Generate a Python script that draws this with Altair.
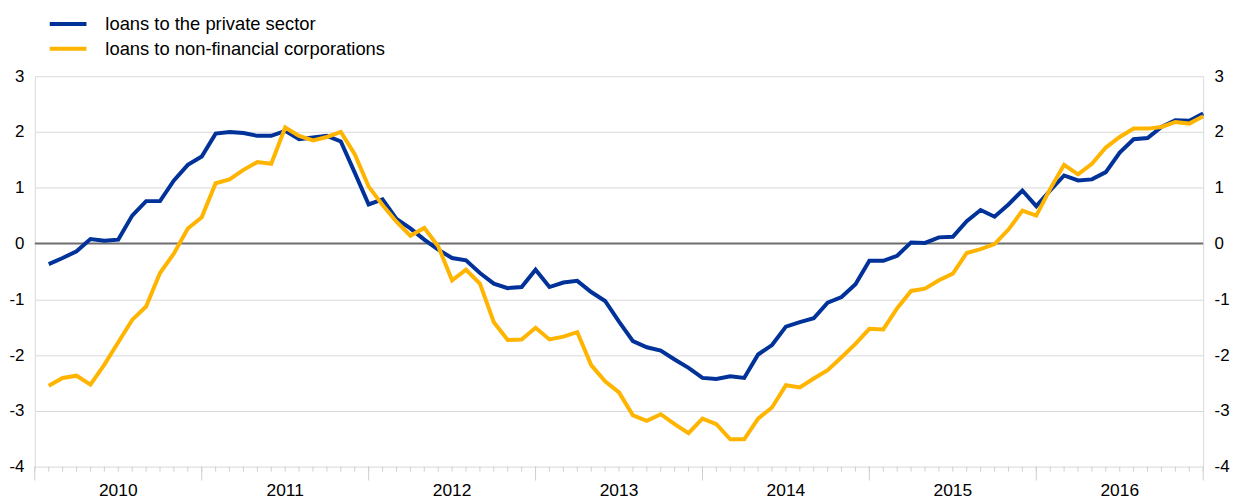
import altair as alt
import pandas as pd

years = [2010, 2011, 2012, 2013, 2014, 2015, 2016]
series_names = ["loans to the private sector", "loans to non-financial corporations"]
series_colors = ["#003299", "#ffb400"]

private_sector = [
    -0.37, -0.26, -0.14, 0.08, 0.05, 0.07, 0.50, 0.76, 0.76, 1.13, 1.41, 1.56,
    1.97, 2.00, 1.98, 1.93, 1.93, 2.02, 1.87, 1.90, 1.93, 1.83, 1.27, 0.70,
    0.79, 0.44, 0.27, 0.07, -0.11, -0.26, -0.30, -0.53, -0.72, -0.80, -0.78, -0.47,
    -0.78, -0.70, -0.67, -0.87, -1.03, -1.40, -1.75, -1.86, -1.92, -2.08, -2.23, -2.41,
    -2.43, -2.38, -2.41, -1.99, -1.82, -1.49, -1.41, -1.34, -1.06, -0.96, -0.73, -0.31,
    -0.31, -0.22, 0.02, 0.01, 0.11, 0.12, 0.40, 0.60, 0.48, 0.70, 0.95, 0.67,
    0.95, 1.22, 1.13, 1.15, 1.28, 1.63, 1.87, 1.89, 2.09, 2.21, 2.20, 2.33,
]
non_financial = [
    -2.55, -2.41, -2.37, -2.53, -2.17, -1.77, -1.37, -1.13, -0.53, -0.18, 0.27, 0.47,
    1.08, 1.15, 1.32, 1.46, 1.43, 2.08, 1.93, 1.85, 1.91, 2.00, 1.60, 1.02,
    0.69, 0.39, 0.14, 0.28, -0.05, -0.66, -0.47, -0.72, -1.41, -1.73, -1.72, -1.51,
    -1.72, -1.67, -1.59, -2.18, -2.47, -2.67, -3.08, -3.18, -3.06, -3.24, -3.40, -3.14,
    -3.24, -3.51, -3.51, -3.14, -2.94, -2.54, -2.58, -2.42, -2.27, -2.04, -1.80, -1.53,
    -1.54, -1.16, -0.85, -0.81, -0.66, -0.54, -0.17, -0.10, -0.01, 0.25, 0.59, 0.50,
    0.98, 1.41, 1.24, 1.43, 1.72, 1.91, 2.06, 2.06, 2.09, 2.18, 2.15, 2.28,
]
months = list(range(1, len(private_sector) + 1))
year_boundaries = [12 * k for k in range(len(years) + 1)]
year_midpoints = [12 * k + 6 for k in range(len(years))]
y_ticks = [-4, -3, -2, -1, 0, 1, 2, 3]
zero_line = [0]

df = pd.DataFrame({
    "month": months + months,
    "value": private_sector + non_financial,
    "series": [series_names[0]] * len(months) + [series_names[1]] * len(months),
})
bounds_df = pd.DataFrame({"month": year_boundaries})
minor_df = pd.DataFrame({"month": list(range(0, year_boundaries[-1] + 1))})
labels_df = pd.DataFrame({"month": year_midpoints, "year": [str(y) for y in years]})
zero_df = pd.DataFrame({"y": zero_line})

W, H = 1176, 393
FONT = "Liberation Sans"
GRID = "#d9d9d9"
TICK = "#cfcfcf"

x_scale = alt.Scale(domain=[0, year_boundaries[-1]], nice=False, zero=False)
y_scale = alt.Scale(domain=[y_ticks[0], y_ticks[-1]], nice=False, zero=False)

left_axis = alt.Axis(
    orient="left", values=y_ticks, grid=True, gridColor=GRID, gridWidth=1,
    ticks=False, domain=True, domainColor=GRID, domainWidth=1,
    labelExpr="toString(datum.value)",
    labelFontSize=17, labelColor="#000000", labelPadding=11, title=None,
)
right_axis = alt.Axis(
    orient="right", values=y_ticks, grid=False,
    ticks=False, domain=True, domainColor=GRID, domainWidth=1,
    labelExpr="toString(datum.value)",
    labelFontSize=17, labelColor="#000000", labelPadding=11, title=None,
)

color = alt.Color(
    "series:N",
    scale=alt.Scale(domain=series_names, range=series_colors),
    sort=series_names,
    legend=alt.Legend(
        orient="none", legendX=13, legendY=-65, title=None,
        symbolType="stroke", symbolSize=1369, symbolStrokeWidth=4,
        labelFontSize=18.5, labelColor="#000000", labelOffset=17, labelLimit=0,
        clipHeight=25, rowPadding=0, padding=0, direction="vertical",
    ),
)

zero_rule = alt.Chart(zero_df).mark_rule(color="#6e6e6e", strokeWidth=2).encode(
    y=alt.Y("y:Q", scale=y_scale, axis=left_axis)
)

# monthly minor ticks and yearly major ticks below the plot
minor_ticks = alt.Chart(minor_df).mark_rule(color=TICK, strokeWidth=1).encode(
    x=alt.X("month:Q", scale=x_scale, axis=None),
    y=alt.value(H),
    y2=alt.value(H + 5),
)
major_ticks = alt.Chart(bounds_df).mark_rule(color=TICK, strokeWidth=1).encode(
    x=alt.X("month:Q", scale=x_scale, axis=None),
    y=alt.value(H),
    y2=alt.value(H + 14),
)
year_labels = alt.Chart(labels_df).mark_text(
    fontSize=17.5, color="#000000", baseline="top", align="center"
).encode(
    x=alt.X("month:Q", scale=x_scale, axis=None),
    y=alt.value(H + 16),
    text="year:N",
)

blue = alt.Chart(df).transform_filter(
    alt.datum.series == series_names[0]
).mark_line(strokeWidth=4).encode(
    x=alt.X("month:Q", scale=x_scale, axis=None),
    y=alt.Y("value:Q", scale=y_scale, axis=None),
    color=color,
)

yellow = alt.Chart(df).transform_filter(
    alt.datum.series == series_names[1]
).mark_line(strokeWidth=4).encode(
    x=alt.X("month:Q", scale=x_scale, axis=None),
    y=alt.Y("value:Q", scale=y_scale, axis=right_axis),
    color=color,
)

chart = alt.layer(
    zero_rule, minor_ticks, major_ticks, year_labels, blue, yellow
).resolve_axis(
    y="independent"
).properties(
    width=W, height=H,
    autosize=alt.AutoSizeParams(type="none"),
    padding={"left": 27, "top": 67, "right": 29, "bottom": 36},
).configure(font=FONT).configure_view(stroke=None)

chart.save("out.html", embed_options={"renderer": "svg", "actions": False})
